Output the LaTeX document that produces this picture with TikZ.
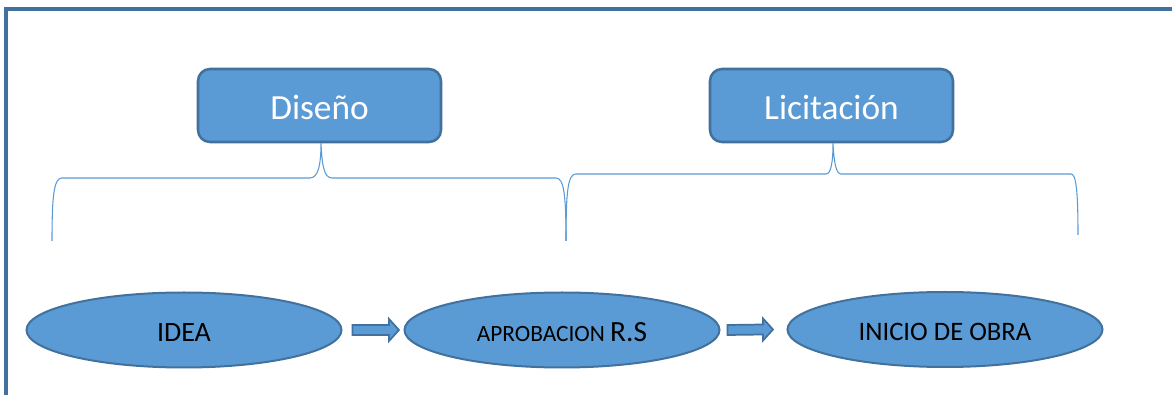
\documentclass[tikz,border=0pt]{standalone}
\usepackage{fontspec}
\setmainfont{Carlito}
\usetikzlibrary{shapes.geometric,calc}
\definecolor{fillb}{HTML}{5B9BD5}
\definecolor{edgeb}{HTML}{41719C}
\begin{document}
\begin{tikzpicture}[x=0.75pt,y=-0.75pt,
 phase/.style={draw=edgeb, fill=fillb, line width=1.9pt, rounded corners=9pt,
   minimum width={243*0.75pt}, minimum height={73*0.75pt}, inner sep=0pt,
   text=white, font=\fontsize{26.5}{30}\selectfont, text height=21pt, text depth=0pt},
 stage/.style={ellipse, draw=edgeb, fill=fillb, line width=1.5pt,
   minimum width={315*0.75pt}, minimum height={75*0.75pt}, inner sep=0pt, text=black,
   text depth=0pt},
 brace/.style={draw=fillb, line width=0.8pt},
 barrow/.style={draw=edgeb, fill=fillb, line width=1.3pt, line join=miter}]

\useasboundingbox (0,0) rectangle (1172,395);
\clip (0,0) rectangle (1172,395);
\fill[white] (0,0) rectangle (1172,395);
\draw[edgeb, line width=2.4pt] (6,400) -- (6,9) -- (1180,9);

\node[phase] (dis) at (319.5,105.5) {Diseño};
\node[phase] (lic) at (831.5,105.5) {Licitación};

\node[stage, font=\fontsize{21}{24}\selectfont, text height=18pt] (idea) at (184,330) {IDEA};
\node[stage, text height=18pt] (apr) at (562,330) {\fontsize{17.5}{20}\selectfont APROBACION \fontsize{22}{24}\selectfont R.S};
\node[stage, font=\fontsize{20}{24}\selectfont, text height=17pt] (ini) at (945,329.5) {INICIO DE OBRA};

% braces
\draw[brace] (52,241) .. controls (52,195) and (54,178) .. (62,178) -- (310,178)
  .. controls (318,178) and (321,165) .. ($(dis.south)+(1.5,0)$)
  .. controls (322,165) and (324,178) .. (332,178) -- (556,178)
  .. controls (564,178) and (566,195) .. (566,241);
\draw[brace] (566,241) .. controls (566,190) and (568,174) .. (576,174) -- (826,174)
  .. controls (831,174) and (833,162) .. ($(lic.south)+(1.5,0)$)
  .. controls (834,162) and (836,174) .. (841,174) -- (1071,174)
  .. controls (1076,174) and (1078,190) .. (1078,235);

% block arrows
\draw[barrow] ($(idea.east)+(10,-5)$) -- ($(apr.west)+(-14.5,-5)$) -- ($(apr.west)+(-14.5,-11)$)
  -- ($(apr.west)+(-4.5,0)$) -- ($(apr.west)+(-14.5,11)$) -- ($(apr.west)+(-14.5,5)$)
  -- ($(idea.east)+(10,5)$) -- cycle;
\draw[barrow] ($(apr.east)+(7,-5)$) -- ($(ini.west)+(-23.5,-5)$) -- ($(ini.west)+(-23.5,-11)$)
  -- ($(ini.west)+(-13.5,0)$) -- ($(ini.west)+(-23.5,11)$) -- ($(ini.west)+(-23.5,5)$)
  -- ($(apr.east)+(7,5)$) -- cycle;
\end{tikzpicture}
\end{document}
